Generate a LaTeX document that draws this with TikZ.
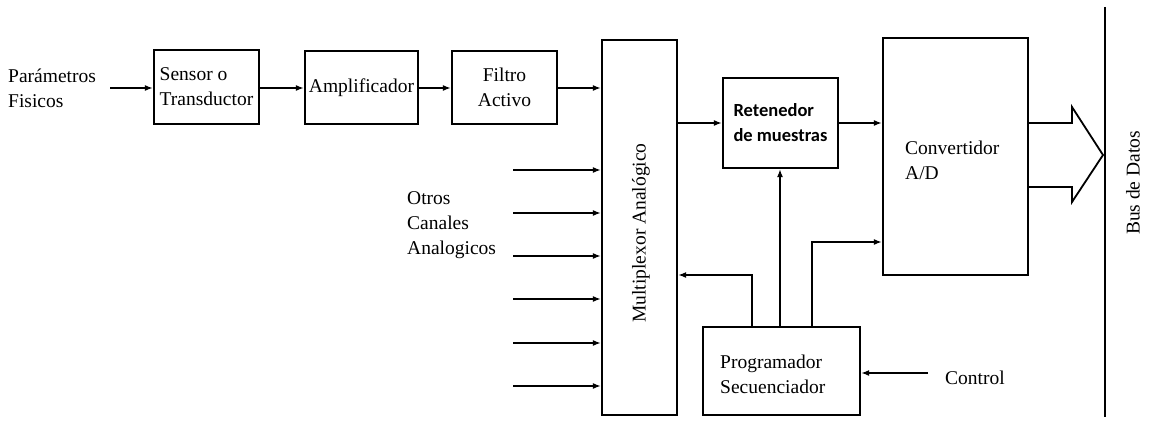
\documentclass[tikz,border=0pt]{standalone}
\usepackage{fontspec}
\setmainfont{Liberation Serif}
\newfontfamily\calib{Carlito}
\usetikzlibrary{arrows.meta}
\begin{document}
\begin{tikzpicture}[x=1pt,y=-1pt,
  box/.style={draw,line width=2.2pt,inner sep=0pt},
  arr/.style={line width=1.8pt,-{Latex[length=8pt,width=6pt]}},
  wire/.style={line width=1.8pt},
  lbl/.style={font=\fontsize{19.5}{25}\selectfont,inner sep=0pt,align=left},
  bold/.style={font=\calib\bfseries\fontsize{18.5}{25}\selectfont,inner sep=0pt,align=left}]
\useasboundingbox (0,0) rectangle (1159,425);
% boxes
\node[box,minimum width=105pt,minimum height=74pt,lbl] (sensor) at (206.5,87) {Sensor o\\Transductor};
\node[box,minimum width=113pt,minimum height=73pt,lbl] (amp) at (361.5,87.5) {Amplificador};
\node[box,minimum width=105pt,minimum height=73pt,lbl,align=center] (filtro) at (504.5,87.5) {Filtro\\Activo};
\node[box,minimum width=75pt,minimum height=375pt] (mux) at (639.5,227.5) {};
\node[lbl,rotate=90] (muxt) at (641,233) {Multiplexor Analógico};
\node[box,minimum width=115pt,minimum height=90pt,bold] (ret) at (780.5,123) {Retenedor\\de muestras};
\node[box,minimum width=145pt,minimum height=237pt] (conv) at (955.5,156.5) {};
\node[lbl,anchor=west] (convt) at (905,160) {Convertidor\\A/D};
\node[box,minimum width=157pt,minimum height=88pt] (prog) at (781.5,371) {};
\node[lbl,anchor=west] (progt) at (720,374.5) {Programador\\Secuenciador};
% labels
\node[lbl,anchor=west] (param) at (8,88) {Parámetros\\Fisicos};
\node[lbl,anchor=west] (otros) at (407,225) {Otros\\Canales\\Analogicos};
\node[lbl,anchor=west] (ctlt) at (945,378) {Control};
\node[lbl,rotate=90] (bust) at (1133,183) {Bus de Datos};
% main chain
\coordinate (pin) at (110,88);
\draw[arr] (pin) -- (sensor.west |- pin);
\draw[arr] (sensor.east |- pin) -- (amp.west |- pin);
\draw[arr] (amp.east |- pin) -- (filtro.west |- pin);
\draw[arr] (filtro.east |- pin) -- (mux.west |- pin);
% other channels
\foreach \y [count=\i] in {170,213,256,299,343,386}{
  \coordinate (in\i) at (513,\y);
  \draw[arr] (in\i) -- (in\i -| mux.west);
}
% mux -> ret -> conv
\coordinate (sh) at (0,123);
\draw[arr] (mux.east |- sh) -- (ret.west |- sh);
\draw[arr] (ret.east |- sh) -- (conv.west |- sh);
% programmer connections
\coordinate (pm) at (752,275);
\draw[arr] (prog.north -| pm) |- (mux.east |- pm);
\coordinate (pr) at (780,0);
\draw[arr] (prog.north -| pr) -- (ret.south -| pr);
\coordinate (pc) at (812,242);
\draw[arr] (prog.north -| pc) |- (conv.west |- pc);
\coordinate (ctl) at (928,373);
\draw[arr] (ctl) -- (prog.east |- ctl);
% bus
\coordinate (bt) at (1105,7);
\coordinate (bb) at (1105,417);
\draw[wire] (bt) -- (bb);
% hollow arrow
\coordinate (a1) at (0,123);
\coordinate (a2) at (0,187);
\draw[wire,line join=miter] (conv.east |- a1) -- (1072,123) -- (1072,107) -- (1103,155) -- (1072,202) -- (1072,187) -- (conv.east |- a2);
\end{tikzpicture}
\end{document}
